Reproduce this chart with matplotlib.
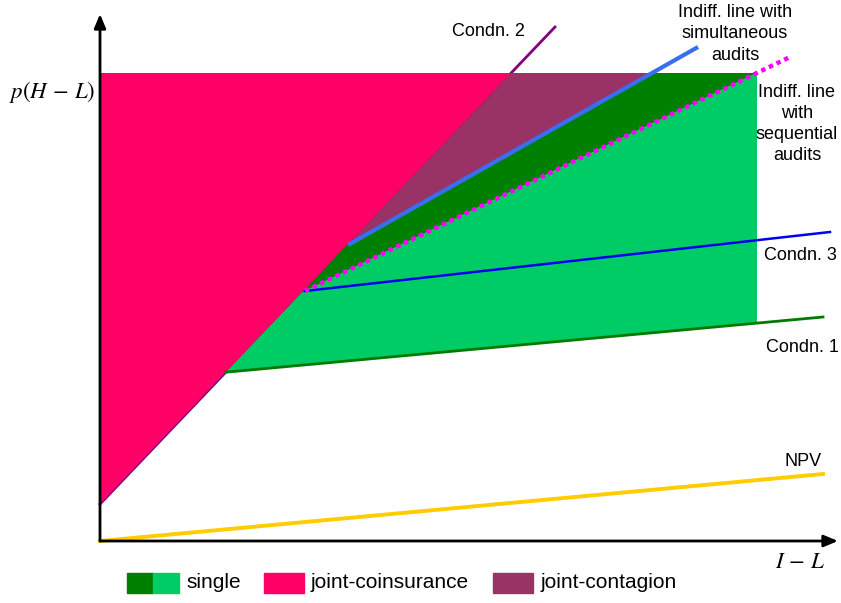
import matplotlib
matplotlib.use("Agg")
import matplotlib.pyplot as plt
from matplotlib.patches import Polygon, Rectangle
import numpy as np

plt.rcParams['font.family'] = ['Liberation Sans', 'DejaVu Sans']
plt.rcParams['mathtext.fontset'] = 'stix'

# line endpoints (x0, y0, x1, y1) in the schematic's own units
npv = [0, 0, 723, 67]
condn1 = [128, 169, 723, 224]
condn2 = [0, 37, 455, 514]
condn3 = [205, 250, 730, 309]
indiff_sim = [248, 296, 598, 494]
indiff_seq = [205, 250, 690, 484]
y_top = 468      # upper bound of the shaded regions
x_right = 657    # right edge of the "single" region

label_names = ["single", "joint-coinsurance", "joint-contagion"]

c_pink = '#ff0066'
c_maroon = '#993366'
c_dark = '#008000'
c_light = '#00cc66'


def slope(l):
    return (l[3] - l[1]) / (l[2] - l[0])


def y_at(l, x):
    return l[1] + slope(l) * (x - l[0])


def x_at(l, y):
    return l[0] + (y - l[1]) / slope(l)


def cross(a, b):
    x = (b[1] - a[1] - slope(b) * b[0] + slope(a) * a[0]) / (slope(a) - slope(b))
    return x, y_at(a, x)


fig = plt.figure(figsize=(8.41, 6.03), dpi=100)
ax = fig.add_axes([0, 0, 1, 1])
ax.set_xlim(-100, 741)
ax.set_ylim(-62, 541)
ax.axis('off')

tip = cross(condn2, indiff_seq)
sim0 = (indiff_sim[0], y_at(condn2, indiff_sim[0]))
c2_top = (x_at(condn2, y_top), y_top)
sim_top = (x_at(indiff_sim, y_top), y_top)
c1_start = cross(condn2, condn1)

pink = [(0, condn2[1]), (0, y_top), c2_top]
maroon = [sim0, c2_top, sim_top]
dark = [tip, sim0, sim_top, (x_right, y_top), (x_right, y_at(indiff_seq, x_right))]
light = [c1_start, tip, (x_right, y_at(indiff_seq, x_right)),
         (x_right, y_at(condn1, x_right))]

ax.plot(condn2[0::2], condn2[1::2], color='#800080', lw=2, zorder=0.5)
for pts, col in [(light, c_light), (dark, c_dark), (maroon, c_maroon), (pink, c_pink)]:
    ax.add_patch(Polygon(pts, closed=True, facecolor=col, edgecolor='none', zorder=1))

x1 = [c1_start[0], condn1[2]]
ax.plot(x1, [y_at(condn1, v) for v in x1], color='#007a00', lw=2, zorder=3)
ax.plot(npv[0::2], npv[1::2], color='#ffcc00', lw=2.8, zorder=3)
ax.plot(condn3[0::2], condn3[1::2], color='#0000ee', lw=1.8, zorder=3)
ax.plot(indiff_sim[0::2], indiff_sim[1::2], color='#3a6ef0', lw=3, zorder=3,
        solid_capstyle='butt')
ax.plot(indiff_seq[0::2], indiff_seq[1::2], color='#ff00ff', lw=3.2, zorder=4,
        linestyle=(0, (1, 0.9)), dash_capstyle='butt')

# axes with arrows
arrow = dict(arrowstyle='-|>,head_length=0.6,head_width=0.25', lw=2, color='black',
             shrinkA=0, shrinkB=0, mutation_scale=14)
ax.annotate('', xy=(0, 527), xytext=(0, 0), arrowprops=arrow, zorder=5)
ax.annotate('', xy=(738, 0), xytext=(0, 0), arrowprops=arrow, zorder=5)

ax.text(-48, 449, r'$p(H\,-\,L)$', fontsize=16.5, ha='center', va='center')
ax.text(700, -21, r'$I\,-\,L$', fontsize=16.5, ha='center', va='center')

fs = 13
ax.text(388, 509, 'Condn. 2', fontsize=fs, ha='center', va='center')
ax.text(635, 507, 'Indiff. line with\nsimultaneous\naudits', fontsize=fs,
        ha='center', va='center', linespacing=1.32)
ax.text(697, 417, 'Indiff. line\nwith\nsequential\naudits', fontsize=fs,
        ha='center', va='center', linespacing=1.32)
ax.text(700, 286, 'Condn. 3', fontsize=fs, ha='center', va='center')
ax.text(702, 194, 'Condn. 1', fontsize=fs, ha='center', va='center')
ax.text(703, 80, 'NPV', fontsize=fs, ha='center', va='center')

# legend drawn by hand below the axis
ly, lh = -52, 20
ax.add_patch(Rectangle((27, ly), 26, lh, color=c_dark))
ax.add_patch(Rectangle((53, ly), 26, lh, color=c_light))
ax.text(86, ly + lh / 2, label_names[0], fontsize=15, va='center')
ax.add_patch(Rectangle((164, ly), 40, lh, color=c_pink))
ax.text(211, ly + lh / 2, label_names[1], fontsize=15, va='center')
ax.add_patch(Rectangle((393, ly), 40, lh, color=c_maroon))
ax.text(441, ly + lh / 2, label_names[2], fontsize=15, va='center')

fig.savefig('out.png', dpi=100)
